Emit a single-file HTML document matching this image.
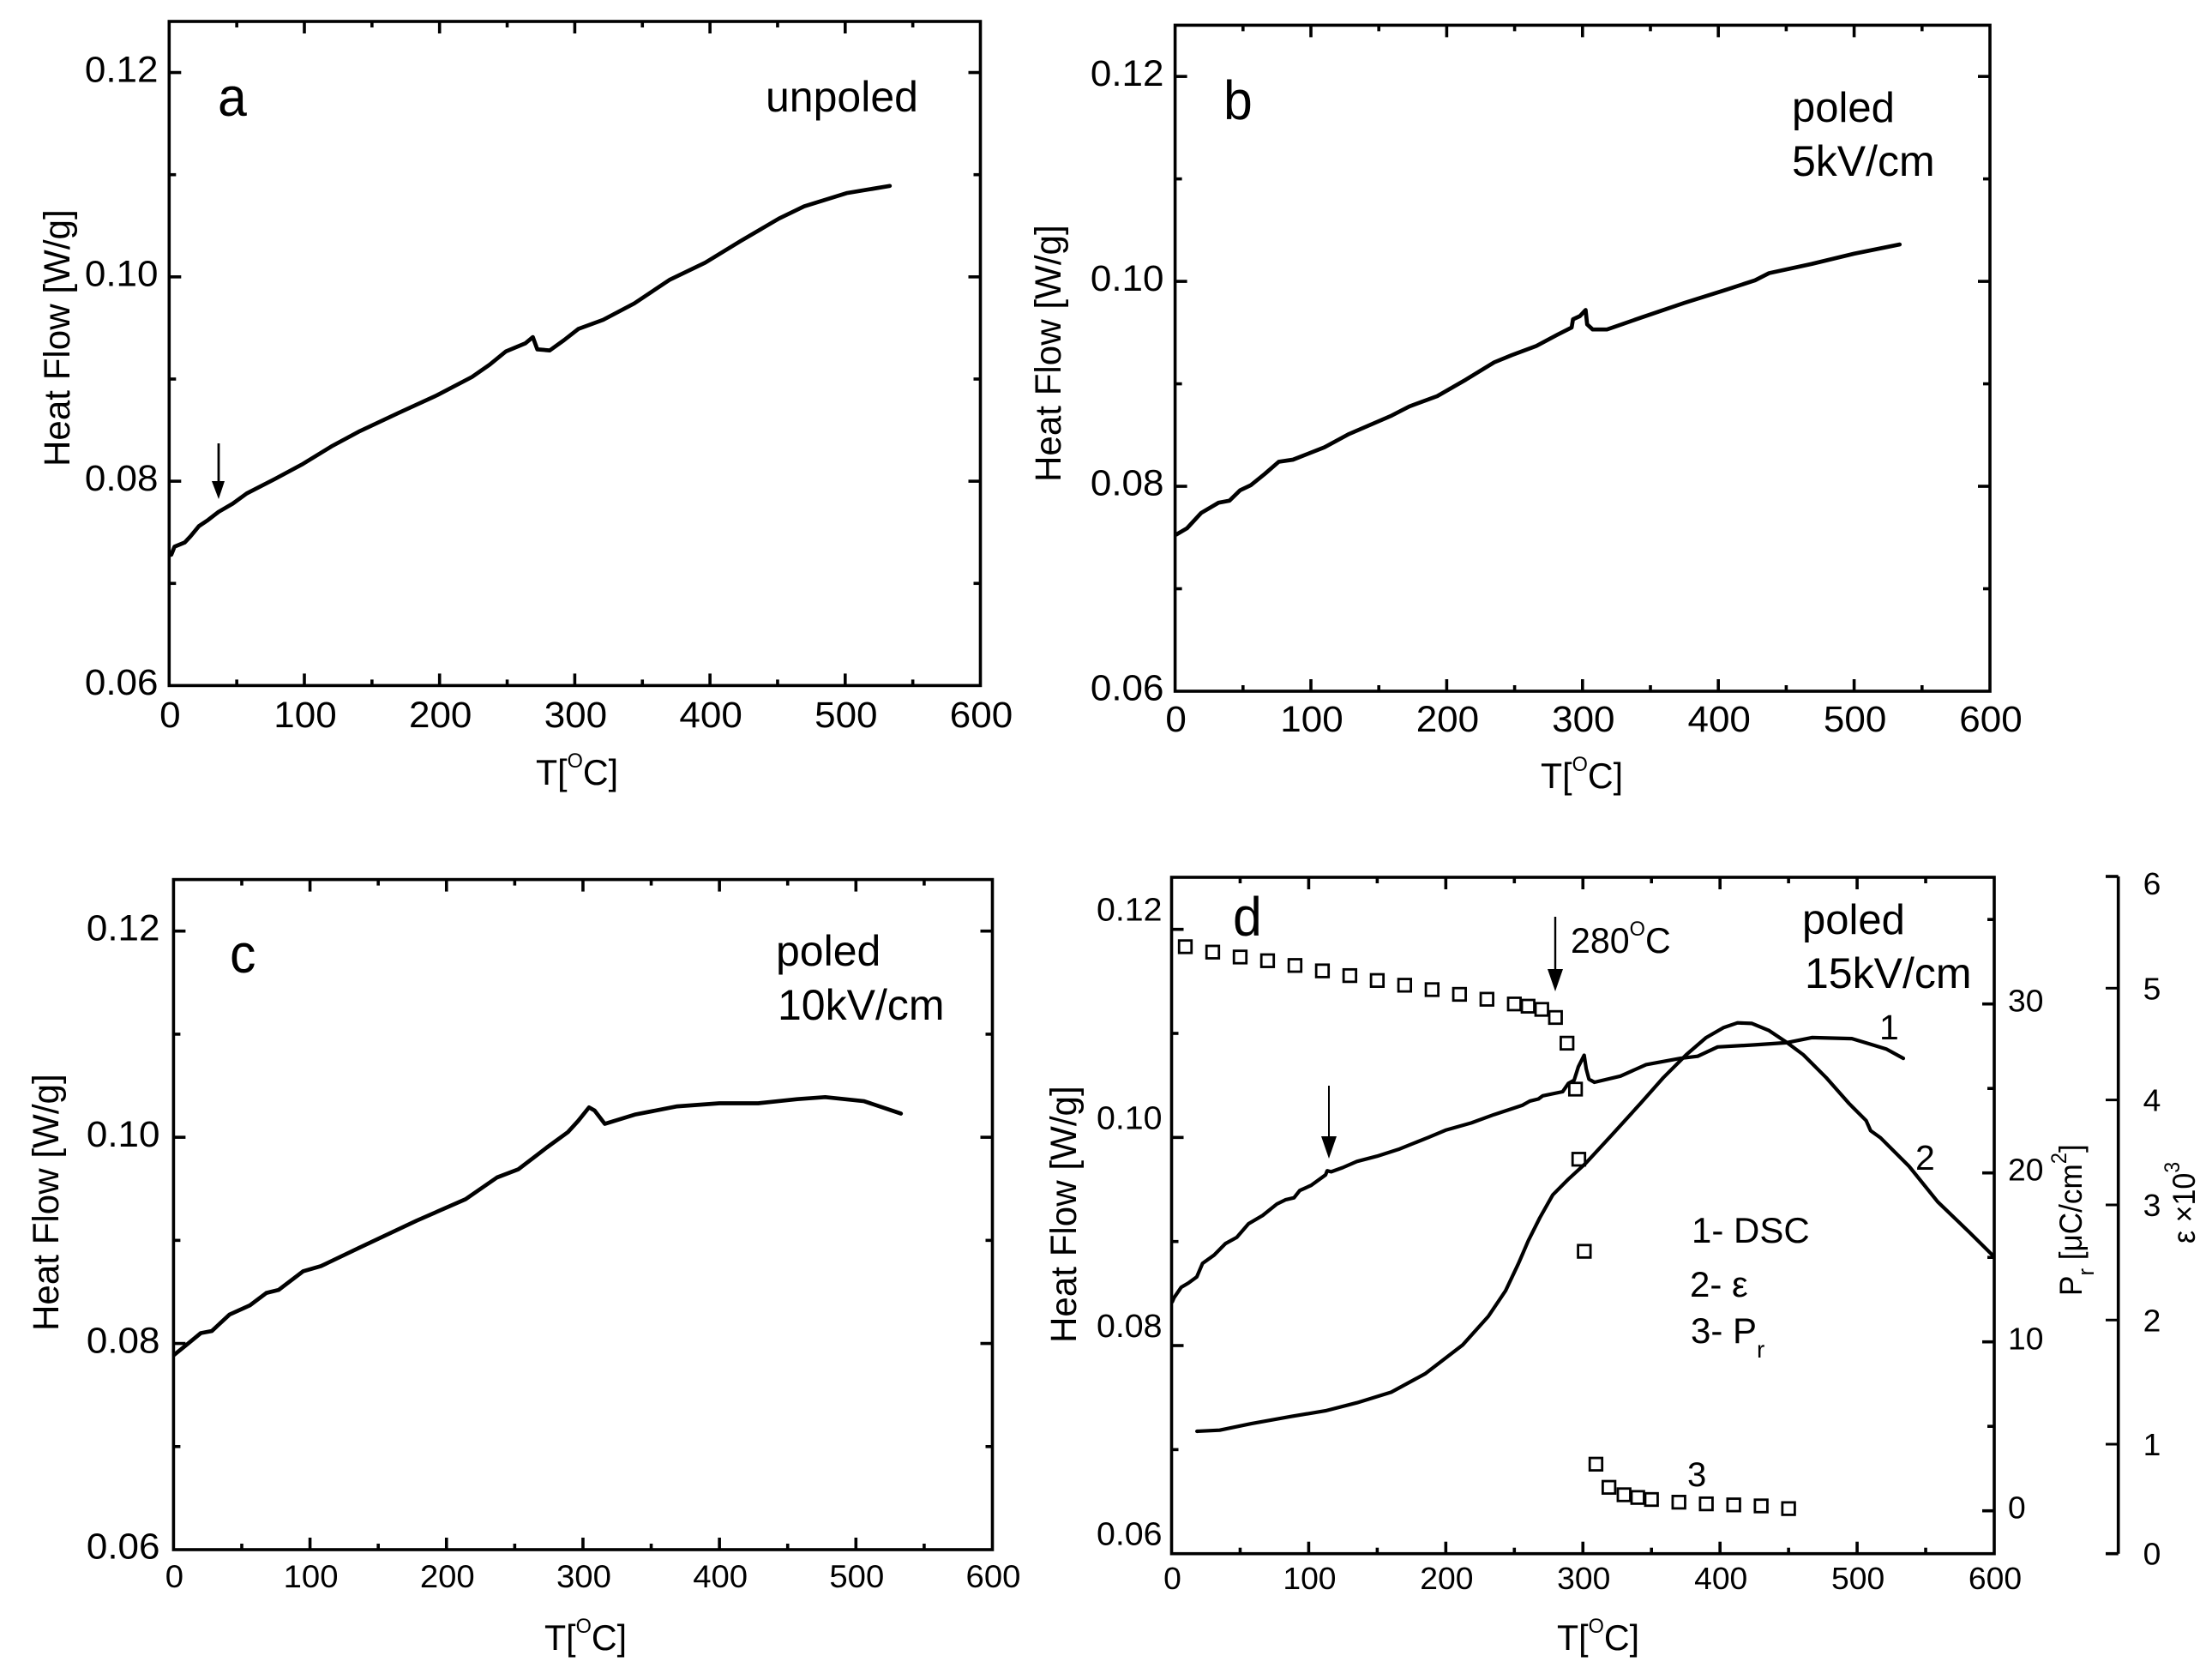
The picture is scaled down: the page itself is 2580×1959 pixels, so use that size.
<!DOCTYPE html>
<html lang="en">
<head>
<meta charset="utf-8">
<title>Heat flow DSC panels</title>
<style>
html,body{margin:0;padding:0;background:#fff;}
svg{display:block;}
text{font-family:"Liberation Sans",sans-serif;fill:#000;}
</style>
</head>
<body>
<svg id="figure" xmlns="http://www.w3.org/2000/svg" width="2580" height="1959" viewBox="0 0 2580 1959">
<rect width="2580" height="1959" fill="#fff"/>

<!-- panel a text -->
<text transform="translate(254,135) scale(.95,1)" font-size="64">a</text>
<text x="893" y="130" font-size="50">unpoled</text>
<text transform="translate(81,544) rotate(-90) scale(.98,1)" font-size="43">Heat Flow [W/g]</text>
<text transform="translate(625,915) scale(.98,1)" font-size="42">T[<tspan font-size="24" dy="-20">O</tspan><tspan dy="20">C]</tspan></text>

<!-- panel b text -->
<text transform="translate(1427,139) scale(.95,1)" font-size="64">b</text>
<text x="2090" y="142" font-size="49">poled</text>
<text x="2090" y="205" font-size="50">5kV/cm</text>
<text transform="translate(1237,562) rotate(-90) scale(.98,1)" font-size="43">Heat Flow [W/g]</text>
<text transform="translate(1797,919) scale(.98,1)" font-size="42">T[<tspan font-size="24" dy="-20">O</tspan><tspan dy="20">C]</tspan></text>

<!-- panel c text -->
<text transform="translate(268,1134) scale(.95,1)" font-size="64">c</text>
<text x="905" y="1126" font-size="50">poled</text>
<text x="907" y="1189" font-size="50">10kV/cm</text>
<text transform="translate(68,1552) rotate(-90) scale(.98,1)" font-size="43">Heat Flow [W/g]</text>
<text transform="translate(635,1924) scale(.98,1)" font-size="42">T[<tspan font-size="24" dy="-20">O</tspan><tspan dy="20">C]</tspan></text>

<!-- panel d text -->
<text transform="translate(1438,1091) scale(.95,1)" font-size="64">d</text>
<text x="2102" y="1089" font-size="49">poled</text>
<text x="2105" y="1152" font-size="50">15kV/cm</text>
<text transform="translate(1255,1566) rotate(-90) scale(.98,1)" font-size="43">Heat Flow [W/g]</text>
<text transform="translate(1816,1924) scale(.98,1)" font-size="42">T[<tspan font-size="24" dy="-20">O</tspan><tspan dy="20">C]</tspan></text>
<text x="2192" y="1212" font-size="41">1</text>
<text x="2234" y="1364" font-size="41">2</text>
<text x="1968" y="1733" font-size="40">3</text>
<text transform="translate(1832,1111) scale(.98,1)" font-size="42">280<tspan font-size="24" dy="-20">O</tspan><tspan dy="20">C</tspan></text>
<text x="1973" y="1449" font-size="42">1- DSC</text>
<text x="1971" y="1512" font-size="42">2- &#949;</text>
<text x="1972" y="1566" font-size="42">3- P<tspan font-size="28" dy="17">r</tspan></text>
<text transform="translate(2428,1511) rotate(-90) scale(.95,1)" font-size="37">P<tspan font-size="27" dy="14">r</tspan><tspan dy="-14"> [&#956;C/cm</tspan><tspan font-size="25" dy="-18">2</tspan><tspan dy="18">]</tspan></text>
<text transform="translate(2560,1450) rotate(-90) scale(.92,1)" font-size="37">&#949; &#215;10<tspan font-size="25" dy="-18">3</tspan></text>

<!-- arrows -->
<g>
<line x1="255" y1="517" x2="255" y2="566" stroke="#000" stroke-width="2.8"/>
<polygon points="247,561 262,561 255,582" fill="#000"/>
</g>
<g>
<line x1="1550" y1="1266" x2="1550" y2="1335" stroke="#000" stroke-width="2"/>
<polygon points="1541,1325 1559,1325 1550,1351" fill="#000"/>
</g>
<g>
<line x1="1814" y1="1069" x2="1814" y2="1135" stroke="#000" stroke-width="2.4"/>
<polygon points="1805,1130 1823,1130 1814,1156" fill="#000"/>
</g>
</svg>

<script>
// shared axis values
const temperatureTicks = [0, 100, 200, 300, 400, 500, 600];
const temperatureMinorTicks = [50, 150, 250, 350, 450, 550];
const heatFlowTicks = [0.06, 0.08, 0.10, 0.12];
const heatFlowTickLabels = ["0.06", "0.08", "0.10", "0.12"];
const heatFlowMinorTicks = [0.07, 0.09, 0.11];
const polarizationTicks = [0, 10, 20, 30];
const polarizationMinorTicks = [5, 15, 25, 35];
const permittivityTickLabels = ["0", "1", "2", "3", "4", "5", "6"];
const permittivityTicks = [0, 0.97, 2.07, 3.09, 4.02, 5.01, 6];

// panel a: unpoled
const panelATemperature = [1.6, 4, 11.5, 15.7, 22, 28.7, 36.5, 47, 57.4, 78, 99, 120, 141, 170, 198, 224, 237, 249, 263.5, 269, 272.3, 281.5, 292, 302.6, 321, 344, 370, 396.5, 422.6, 451, 469.6, 501, 533];
const panelAHeatFlow = [0.0728, 0.0736, 0.0740, 0.0746, 0.0756, 0.0762, 0.0770, 0.0778, 0.0788, 0.0802, 0.0817, 0.0834, 0.0849, 0.0867, 0.0884, 0.0902, 0.0914, 0.0927, 0.0935, 0.0941, 0.0929, 0.0928, 0.0938, 0.0949, 0.0958, 0.0974, 0.0997, 0.1014, 0.1035, 0.1057, 0.1069, 0.1082, 0.1089];

// panel b: poled 5 kV/cm
const panelBTemperature = [1, 8.8, 19.2, 32, 40, 47.8, 55.6, 66, 76.4, 86.8, 110, 128, 159.5, 172.5, 193, 214, 235, 248, 266, 281.6, 292, 293, 298, 302.3, 303.4, 307.5, 318, 344, 375, 406, 427, 437.4, 468.6, 500, 533.5];
const panelBHeatFlow = [0.0753, 0.0759, 0.0774, 0.0784, 0.0786, 0.0796, 0.0801, 0.0812, 0.0824, 0.0826, 0.0838, 0.0851, 0.0869, 0.0878, 0.0888, 0.0904, 0.0921, 0.0928, 0.0937, 0.0948, 0.0955, 0.0963, 0.0966, 0.0972, 0.0958, 0.0953, 0.0953, 0.0965, 0.0979, 0.0992, 0.1001, 0.1008, 0.1017, 0.1027, 0.1036];

// panel c: poled 10 kV/cm
const panelCTemperature = [0.5, 9.8, 20, 28, 41, 56, 68, 77, 95, 108, 136.4, 178, 214, 237, 252.7, 265.6, 273.4, 289, 296.6, 304.4, 308.5, 316, 338, 369, 400, 428.4, 457, 477.5, 506, 533];
const panelCHeatFlow = [0.0789, 0.0799, 0.0810, 0.0812, 0.0828, 0.0837, 0.0849, 0.0852, 0.0870, 0.0875, 0.0893, 0.0919, 0.0940, 0.0961, 0.0969, 0.0982, 0.0990, 0.1005, 0.1016, 0.1029, 0.1026, 0.1013, 0.1022, 0.1030, 0.1033, 0.1033, 0.1037, 0.1039, 0.1035, 0.1023];

// panel d: poled 15 kV/cm, curve 1 (DSC)
const panelDTemperature = [0.5, 1.8, 7, 12.2, 18.4, 22.6, 31, 39.3, 47.6, 56, 66.4, 76.8, 83, 89.3, 93.5, 101.8, 112.3, 113.5, 116.4, 124.8, 135.2, 149.8, 166.4, 187.3, 199.8, 218.6, 235.2, 256, 261.3, 267.5, 270.7, 285.2, 289.4, 293.6, 296.7, 300.9, 302.4, 304.4, 308.4, 327.4, 346.1, 371.2, 383.7, 398.3, 425.3, 448.3, 467, 496.2, 508.7, 521.2, 533.7];
const panelDHeatFlow = [0.0842, 0.0846, 0.0856, 0.0860, 0.0866, 0.0879, 0.0887, 0.0898, 0.0904, 0.0917, 0.0925, 0.0936, 0.0940, 0.0942, 0.0949, 0.0954, 0.0964, 0.0968, 0.0967, 0.0971, 0.0977, 0.0982, 0.0989, 0.1000, 0.1007, 0.1014, 0.1022, 0.1031, 0.1035, 0.1037, 0.1040, 0.1044, 0.1052, 0.1055, 0.1068, 0.1079, 0.1066, 0.1056, 0.1053, 0.1059, 0.1070, 0.1076, 0.1078, 0.1087, 0.1089, 0.1091, 0.1096, 0.1095, 0.1090, 0.1085, 0.1076];

// panel d: curve 2 (permittivity, x10^3)
const permittivityTemperature = [18.5, 35.1, 58.1, 87.2, 112.2, 135.2, 160.2, 185.2, 212.3, 231, 243.6, 253, 260.2, 268.6, 278, 289.4, 301.9, 321.1, 342, 358.6, 375.3, 389.9, 402.4, 412.8, 423.3, 435.8, 448.3, 460.8, 477.5, 494.1, 506.6, 509.8, 517, 537.9, 558.7, 581.7, 599.6];
const permittivityValues = [1.084, 1.094, 1.152, 1.216, 1.266, 1.337, 1.431, 1.596, 1.849, 2.102, 2.330, 2.571, 2.773, 2.976, 3.179, 3.318, 3.457, 3.710, 3.989, 4.217, 4.420, 4.572, 4.660, 4.703, 4.698, 4.635, 4.533, 4.420, 4.217, 3.989, 3.837, 3.748, 3.685, 3.432, 3.118, 2.850, 2.634];

// panel d: curve 3 (remanent polarization, uC/cm2)
const polarizationTemperature = [10, 30, 50, 70, 90, 110, 130, 150, 170, 190, 210, 230, 250, 260, 270, 280, 288.4, 294.6, 297, 301, 309.5, 319, 330, 340, 350, 370, 390, 410, 430, 450];
const polarizationValues = [33.39, 33.07, 32.78, 32.56, 32.28, 31.96, 31.68, 31.39, 31.11, 30.85, 30.57, 30.28, 30.0, 29.87, 29.68, 29.20, 27.68, 24.96, 20.81, 15.36, 2.76, 1.39, 0.95, 0.79, 0.67, 0.51, 0.41, 0.35, 0.29, 0.13];

const SVG_NS = "http://www.w3.org/2000/svg";
const figure = document.getElementById("figure");
const TICK_FONT_STRETCH = 1.035;

function makeLine(name, x1, y1, x2, y2, width) {
  const el = document.createElementNS(SVG_NS, "line");
  
  
  el.setAttribute("x1", x1);
  el.setAttribute("y1", y1);
  el.setAttribute("x2", x2);
  el.setAttribute("y2", y2);
  el.setAttribute("stroke", "#000");
  el.setAttribute("stroke-width", width);
  figure.appendChild(el);
}

function makeLabel(name, x, y, str, size, anchor) {
  const el = document.createElementNS(SVG_NS, "text");
  
  
  el.setAttribute("transform", "translate(" + x + "," + y + ") scale(" + TICK_FONT_STRETCH + ",1)");
  el.setAttribute("font-size", size);
  el.setAttribute("text-anchor", anchor);
  el.textContent = str;
  figure.appendChild(el);
}

function makeCurve(name, xs, ys, xScale, yScale, width) {
  const el = document.createElementNS(SVG_NS, "polyline");
  
  
  el.setAttribute("points", xs.map(function (t, i) { return xScale(t).toFixed(1) + "," + yScale(ys[i]).toFixed(1); }).join(" "));
  el.setAttribute("fill", "none");
  el.setAttribute("stroke", "#000");
  el.setAttribute("stroke-width", width);
  el.setAttribute("stroke-linejoin", "round");
  el.setAttribute("stroke-linecap", "round");
  figure.appendChild(el);
}

function linear(d0, d1, r0, r1) {
  return function (v) { return r0 + (v - d0) * (r1 - r0) / (d1 - d0); };
}

function drawPanel(id, box, style, temperature, heatFlow) {
  const xScale = linear(0, 600, box.left, box.right);
  const yScale = linear(0.06, 0.125, box.bottom, box.top);
  const sw = 3.6;
  const frame = document.createElementNS(SVG_NS, "rect");
  
  
  frame.setAttribute("x", box.left);
  frame.setAttribute("y", box.top);
  frame.setAttribute("width", box.right - box.left);
  frame.setAttribute("height", box.bottom - box.top);
  frame.setAttribute("fill", "none");
  frame.setAttribute("stroke", "#000");
  frame.setAttribute("stroke-width", sw);
  figure.appendChild(frame);

  temperatureTicks.forEach(function (t) {
    const x = xScale(t);
    if (t !== 0 && t !== 600) {
      makeLine('panel-' + id + '-x-tick-bottom', x, box.bottom, x, box.bottom - 14, sw);
      makeLine('panel-' + id + '-x-tick-top', x, box.top, x, box.top + 14, sw);
    }
    makeLabel('panel-' + id + '-x-tick-label', x + 1, style.xLabelY, String(t), style.xFont, "middle");
  });
  temperatureMinorTicks.forEach(function (t) {
    const x = xScale(t);
    makeLine('panel-' + id + '-x-minor-tick-bottom', x, box.bottom, x, box.bottom - 7, sw);
    makeLine('panel-' + id + '-x-minor-tick-top', x, box.top, x, box.top + 7, sw);
  });
  heatFlowTicks.forEach(function (v, i) {
    const y = yScale(v);
    if (v !== 0.06) {
      makeLine('panel-' + id + '-y-tick-left', box.left, y, box.left + 14, y, sw);
      if (id !== 'd') {
        makeLine('panel-' + id + '-y-tick-right', box.right, y, box.right - 14, y, sw);
      }
    }
    makeLabel('panel-' + id + '-y-tick-label', style.yLabelX, y + style.yLabelDy, heatFlowTickLabels[i], style.yFont, "end");
  });
  heatFlowMinorTicks.forEach(function (v) {
    const y = yScale(v);
    makeLine('panel-' + id + '-y-minor-tick-left', box.left, y, box.left + 8, y, sw);
    if (id !== 'd') {
      makeLine('panel-' + id + '-y-minor-tick-right', box.right, y, box.right - 8, y, sw);
    }
  });
  makeCurve('panel-' + id + '-heat-flow-curve', temperature, heatFlow, xScale, yScale, style.curve);
  return xScale;
}

drawPanel('a', { left: 197.3, right: 1143.5, top: 25, bottom: 799.4 },
  { xLabelY: 848, xFont: 42.5, yLabelX: 184.5, yLabelDy: 10.7, yFont: 42.5, curve: 4.7 }, panelATemperature, panelAHeatFlow);
drawPanel('b', { left: 1370.6, right: 2321, top: 29.4, bottom: 806 },
  { xLabelY: 853, xFont: 42.5, yLabelX: 1357.5, yLabelDy: 10.7, yFont: 42.5, curve: 4.7 }, panelBTemperature, panelBHeatFlow);
drawPanel('c', { left: 202.4, right: 1157.5, top: 1025.6, bottom: 1807 },
  { xLabelY: 1851, xFont: 37, yLabelX: 186.5, yLabelDy: 10.7, yFont: 42.5, curve: 4.7 }, panelCTemperature, panelCHeatFlow);
const panelDX = drawPanel('d', { left: 1366.5, right: 2326, top: 1023, bottom: 1811.7 },
  { xLabelY: 1853, xFont: 36, yLabelX: 1355.5, yLabelDy: -10, yFont: 38, curve: 4.2 }, panelDTemperature, panelDHeatFlow);

// panel d right axis: polarization
const polarizationY = linear(0, 30, 1761.7, 1170.7);
polarizationTicks.forEach(function (v) {
  const y = polarizationY(v);
  makeLine('polarization-axis-tick', 2326, y, 2312, y, 3.6);
  makeLabel('polarization-axis-tick-label', 2342, y + 9, String(v), 36, "start");
});
polarizationMinorTicks.forEach(function (v) {
  const y = polarizationY(v);
  makeLine('polarization-axis-minor-tick', 2326, y, 2318, y, 3.6);
});

// far right axis: permittivity
const permittivityY = linear(0, 6, 1811.7, 1022);
makeLine('permittivity-axis-line', 2470.7, 1022, 2470.7, 1811.7, 3.6);
permittivityTicks.forEach(function (v, i) {
  const y = permittivityY(v);
  makeLine('permittivity-axis-tick', 2456, y, 2470.7, y, i % 6 === 0 ? 3.6 : 3);
  makeLabel('permittivity-axis-tick-label', 2510, Math.max(y, 1030) + 13, permittivityTickLabels[i], 36, "middle");
});

// curve 2 (on permittivity scale)
makeCurve('permittivity-curve', permittivityTemperature, permittivityValues, panelDX, permittivityY, 4.2);

// curve 3 squares
polarizationTemperature.forEach(function (t, i) {
  const size = 14.5;
  const el = document.createElementNS(SVG_NS, "rect");
  
  
  el.setAttribute("x", panelDX(t) - size / 2);
  el.setAttribute("y", polarizationY(polarizationValues[i]) - size / 2);
  el.setAttribute("width", size);
  el.setAttribute("height", size);
  el.setAttribute("fill", "none");
  el.setAttribute("stroke", "#000");
  el.setAttribute("stroke-width", 2.8);
  figure.appendChild(el);
});
</script>
</body>
</html>
